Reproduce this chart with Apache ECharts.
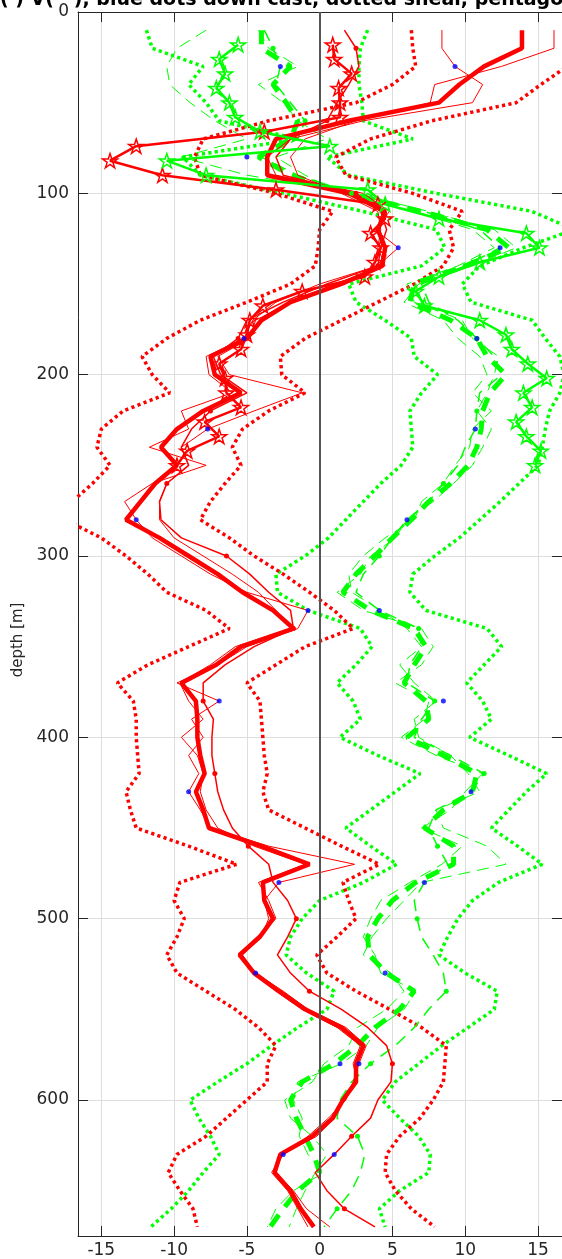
<!DOCTYPE html>
<html>
<head>
<meta charset="utf-8">
<script src="https://cdn.jsdelivr.net/npm/echarts@6/dist/echarts.min.js"></script>
<style>
html, body { margin: 0; padding: 0; background: #fff; }
#main { width: 562px; height: 1259px; }
</style>
</head>
<body>
<div id="main"></div>
<script>
// depth levels [m]
var depth = [10, 20, 30, 40, 50, 60, 70, 80, 90, 100,
    110, 120, 130, 140, 150, 160, 170, 180, 190, 200,
    210, 220, 230, 240, 250, 260, 270, 280, 290, 300,
    310, 320, 330, 340, 350, 360, 370, 380, 390, 400,
    410, 420, 430, 440, 450, 460, 470, 480, 490, 500,
    510, 520, 530, 540, 550, 560, 570, 580, 590, 600,
    610, 620, 630, 640, 650, 660, 670];

// U (red) profiles
var uMean = [13.9, 13.9, 11.3, 9.6, 8.2, 2.0, -3.0, -3.6, -3.6, 2.0,
    4.5, 4.0, 4.5, 4.3, 1.5, -2.0, -4.0, -5.0, -7.5, -7.2,
    -5.4, -8.0, -9.8, -10.9, -9.8, -11.3, -12.3, -13.3, -11.0, -9.0,
    -7.0, -5.3, -3.2, -1.8, -5.4, -7.1, -9.5, -8.5, -8.4, -8.4,
    -8.2, -7.9, -8.5, -8.0, -7.6, -4.0, -0.7, -3.9, -3.8, -3.2,
    -4.1, -5.5, -4.5, -2.8, -1.0, 1.5, 3.0, 2.5, 2.5, 1.6,
    0.9, -0.5, -2.7, -3.1, -2.0, -1.3, -0.4];
var uThin1 = [8.4, 8.4, 9.3, 11.2, 10.5, 3.0, -2.0, -3.6, -3.0, 3.0,
    4.8, 3.8, 5.4, 4.0, 0.0, -3.0, -4.6, -5.2, -7.8, -7.6,
    -6.0, -9.5, -9.0, -11.7, -7.8, -11.5, -13.4, -12.6, -11.5, -9.5,
    -7.5, -5.0, -0.8, -1.5, -5.0, -7.0, -9.8, -6.9, -8.8, -8.0,
    -9.0, -8.3, -9.0, -8.2, -7.5, -3.5, 2.4, -2.8, -3.8, -3.5,
    -4.0, -5.3, -4.4, -2.5, -0.8, 1.8, 3.2, 2.7, 2.3, 1.8,
    0.6, -0.8, -2.5, -3.3, -2.2, -1.5, -0.8];
var uThin2 = [16.1, 16.1, 12.5, 7.9, 7.6, 2.5, -1.0, -2.0, -1.5, 1.5,
    4.0, 4.2, 4.0, 4.5, 1.0, -2.0, -4.4, -4.8, -7.0, -6.2,
    -1.2, -4.5, -7.7, -9.5, -9.0, -10.5, -11.0, -11.0, -10.0, -8.0,
    -6.0, -4.2, -3.0, -2.0, -5.8, -7.5, -9.6, -9.0, -8.0, -9.5,
    -8.4, -8.0, -8.2, -7.8, -7.0, -4.5, -1.0, -4.2, -3.5, -3.0,
    -4.3, -5.6, -4.6, -3.0, -1.2, 1.2, 2.8, 2.3, 2.6, 1.5,
    1.0, -0.2, -2.6, -3.0, -1.8, -0.9, 0.7];
var uDots = [1.7, 2.5, 2.7, 2.0, 1.2, 0.5, -2.0, -3.0, -2.5, 2.5,
    4.2, 4.6, 4.2, 4.0, 0.5, -2.5, -5.0, -5.6, -7.3, -6.8,
    -5.0, -7.5, -8.8, -9.5, -9.0, -10.5, -11.0, -10.9, -9.5, -6.4,
    -4.8, -3.5, -2.0, -1.8, -4.5, -6.5, -8.0, -8.0, -7.3, -7.4,
    -7.4, -7.2, -7.0, -6.6, -6.0, -4.9, -3.5, -3.2, -2.2, -1.6,
    -2.2, -2.9, -2.0, -0.7, 1.5, 3.3, 4.6, 5.0, 4.9, 4.0,
    3.5, 2.2, 1.0, -0.3, 0.5, 1.7, 3.8];
var uShearL = [6.3, 6.4, 6.6, 5.0, 2.5, -3.5, -8.0, -8.6, -8.2, -3.0,
    0.9, 0.0, -0.1, -0.3, -2.0, -5.0, -8.2, -10.5, -12.2, -11.5,
    -10.3, -13.5, -15.0, -15.3, -14.4, -15.6, -17.0, -17.5, -15.0, -13.3,
    -11.8, -10.5, -7.8, -6.2, -9.0, -11.8, -13.9, -12.8, -12.6, -12.6,
    -12.5, -12.4, -13.3, -13.0, -12.6, -9.0, -5.7, -9.6, -10.0, -9.3,
    -9.8, -10.5, -9.8, -7.8, -5.8, -4.2, -3.0, -3.6, -3.6, -5.0,
    -6.4, -7.8, -9.8, -10.4, -9.6, -8.7, -8.4];
var uShearR = [20.5, 19.0, 17.0, 15.2, 13.5, 7.7, 3.5, 1.1, 1.8, 6.4,
    9.8, 8.9, 9.2, 8.5, 6.5, 4.0, 1.5, -1.0, -2.7, -2.6,
    -1.0, -3.5, -5.3, -6.0, -5.4, -6.5, -7.5, -8.2, -6.2, -4.5,
    -2.5, -0.7, 1.0, 2.3, -1.0, -3.0, -5.0, -4.1, -4.0, -3.9,
    -3.8, -3.6, -3.9, -3.5, -1.0, 1.5, 4.1, 1.6, 2.0, 2.5,
    1.2, -0.2, 0.5, 2.5, 4.8, 7.0, 8.7, 8.6, 8.5, 7.8,
    6.9, 5.5, 4.6, 4.5, 5.2, 6.3, 7.9];

// V (green) profiles
var vMean = [-4.0, -4.0, -2.0, -3.2, -2.3, -1.5, -2.0, -4.2, -2.0, 2.0,
    7.0, 11.5, 13.0, 10.0, 6.5, 6.2, 9.0, 10.8, 11.5, 12.8,
    11.7, 11.2, 11.1, 10.8, 10.2, 9.0, 7.5, 6.3, 5.0, 3.8,
    2.5, 1.6, 3.5, 6.5, 7.3, 6.5, 5.8, 7.3, 7.5, 6.0,
    8.5, 10.8, 10.5, 8.5, 7.2, 9.2, 9.2, 6.6, 5.0, 4.0,
    3.3, 3.4, 4.6, 6.5, 5.5, 3.8, 2.6, 1.0, -1.2, -2.0,
    -1.6, -1.0, -0.4, 0.0, -1.5, -2.5, -3.4];
var vThin1 = [-7.8, -9.8, -10.5, -10.3, -8.9, -7.2, -5.0, -9.5, -5.0, 2.5,
    7.5, 12.0, 13.5, 10.5, 6.8, 5.8, 8.5, 9.5, 11.0, 11.5,
    10.5, 11.8, 10.5, 10.3, 9.3, 8.5, 7.0, 6.5, 4.5, 3.0,
    2.0, 2.2, 4.2, 6.0, 7.0, 5.5, 6.5, 8.0, 6.5, 6.8,
    9.0, 10.2, 11.0, 8.0, 8.5, 11.5, 12.8, 7.0, 5.8, 4.6,
    3.6, 3.0, 4.9, 5.8, 4.6, 2.6, 2.0, 0.3, -0.5, -2.4,
    -2.0, -0.5, 0.5, -0.3, -1.0, -1.6, -2.1];
var vThin2 = [-4.2, -3.5, -1.5, -4.2, -2.5, -1.5, 0.5, -3.0, -1.0, 1.5,
    6.5, 10.5, 12.0, 9.5, 6.0, 6.5, 9.8, 10.5, 12.3, 12.0,
    11.5, 10.8, 11.8, 11.2, 10.5, 9.2, 7.8, 6.0, 5.2, 3.5,
    2.8, 1.2, 3.0, 7.0, 7.8, 7.0, 5.2, 7.5, 7.2, 5.6,
    8.0, 11.2, 10.0, 9.0, 7.0, 9.8, 8.4, 6.2, 4.2, 3.5,
    3.0, 3.8, 4.2, 6.6, 5.8, 4.0, 3.2, 1.5, -1.5, -1.8,
    -1.2, -1.4, -0.8, 0.3, -1.8, -3.0, -3.6];
var vDots = [-3.8, -3.2, -2.7, -3.0, -2.0, -1.0, -1.5, -4.0, -1.5, 2.2,
    7.2, 11.0, 12.4, 10.0, 7.0, 7.5, 9.5, 10.8, 12.0, 12.5,
    11.0, 10.8, 10.7, 10.0, 9.5, 8.5, 7.5, 6.0, 5.0, 4.1,
    3.0, 2.5, 4.1, 6.8, 7.0, 6.2, 6.0, 7.9, 7.0, 6.5,
    9.0, 11.3, 10.4, 8.0, 7.5, 8.1, 8.8, 7.2, 6.5, 6.7,
    7.0, 7.8, 8.5, 8.7, 7.5, 6.5, 5.2, 3.5, 2.2, 1.4,
    1.2, 2.6, 3.1, 2.8, 2.2, 1.2, 0.3];
var vShearL = [-11.9, -11.5, -8.0, -9.0, -7.8, -6.9, -1.5, -9.4, -8.2, -2.5,
    3.0, 8.0, 8.6, 7.0, 2.0, 2.5, 4.5, 6.3, 6.5, 8.1,
    7.0, 6.2, 6.3, 6.4, 5.6, 4.2, 3.0, 1.8, 0.6, -1.0,
    -3.0, -2.9, -0.8, 2.8, 3.6, 2.5, 1.2, 2.3, 2.8, 1.4,
    4.0, 6.9, 5.2, 3.5, 1.8, 3.5, 5.3, 3.0, 0.0, -1.2,
    -2.0, -2.3, -0.9, 1.0, 0.5, -1.5, -3.3, -5.0, -7.0, -8.9,
    -8.3, -7.5, -6.9, -8.0, -9.0, -10.2, -11.6];
var vShearR = [3.3, 2.8, 2.7, 2.7, 2.9, 3.0, 6.4, 0.5, 2.0, 8.0,
    14.6, 17.5, 14.0, 11.0, 9.8, 10.4, 14.6, 15.5, 16.5, 16.8,
    16.5, 15.8, 15.5, 15.3, 15.0, 13.7, 12.4, 11.0, 9.6, 7.9,
    6.4, 6.2, 7.3, 11.5, 12.5, 11.3, 10.1, 11.2, 11.8, 10.3,
    13.0, 15.6, 14.2, 13.0, 11.8, 13.6, 15.3, 12.3, 10.5, 9.5,
    8.8, 8.2, 10.0, 12.2, 12.0, 10.2, 8.4, 6.8, 5.2, 4.3,
    5.5, 6.8, 7.6, 7.5, 5.5, 4.1, 4.5];

// pentagram profiles (upper 250 m)
var starDepth = [18, 26, 34, 42, 50, 58, 66, 74, 82, 90,
    98, 106, 114, 122, 130, 138, 146, 154, 162, 170,
    178, 186, 194, 202, 210, 218, 226, 234, 242, 250];
var uStar = [0.9, 1.0, 2.2, 1.3, 1.4, 1.4, -3.8, -12.6, -14.4, -10.8,
    -3.0, 4.0, 4.5, 3.5, 4.2, 3.8, 3.1, -1.2, -3.9, -4.8,
    -5.0, -5.4, -6.9, -6.5, -6.4, -5.4, -7.9, -6.9, -9.1, -9.8];
var vStar = [-5.6, -6.9, -6.5, -7.1, -6.2, -5.8, -4.1, 0.7, -10.5, -7.8,
    3.3, 4.5, 8.2, 14.2, 15.1, 11.0, 8.2, 6.6, 7.2, 11.0,
    12.8, 13.2, 14.3, 15.6, 14.0, 14.6, 13.5, 14.2, 15.2, 14.8];

// down cast (blue dots)
var castDepth = [30, 80, 130, 180, 230, 280, 330, 380, 430, 480, 530, 580, 630];
var castU = [9.3, -5.0, 5.4, -5.2, -7.7, -12.6, -0.8, -6.9, -9.0, -2.8, -4.4, 2.7, -2.5];
var castV = [-2.7, null, 12.4, 10.8, 10.7, 6.0, 4.1, 8.5, 10.4, 7.2, 4.5, 1.4, 1.0];

var RED = '#ff0000';
var GREEN = '#00ff00';
var STAR = 'path://M50,0L61.2,34.5L97.6,34.5L68.2,55.9L79.4,90.5L50,69.1L20.6,90.5L31.8,55.9L2.4,34.5L38.8,34.5Z';
var FONT = 'DejaVu Sans';

function pairs(vals, deps) {
    return vals.map(function (v, i) { return [v, deps[i]]; });
}

function plain(vals, color, width, dash, extra) {
    var s = {
        type: 'line',
        data: pairs(vals, depth),
        symbol: 'none',
        lineStyle: { color: color, width: width, type: dash || 'solid', cap: 'butt' },
        itemStyle: { color: color },
        z: 2
    };
    for (var k in extra) s[k] = extra[k];
    return s;
}

function dotted(vals, color) {
    return plain(vals, color, 3.5, [3.2, 3.3]);
}

function withDots(vals, color, dash) {
    return plain(vals, color, 1.5, dash, {
        symbol: 'circle',
        showSymbol: true,
        symbolSize: function (v, p) { return p.dataIndex % 4 === 1 ? 5 : 0; }
    });
}

function starLine(vals, color) {
    return {
        type: 'line',
        data: pairs(vals, starDepth),
        symbol: STAR,
        symbolSize: 15,
        symbolKeepAspect: true,
        showSymbol: true,
        lineStyle: { color: color, width: 2.5 },
        itemStyle: { color: 'rgba(255,255,255,0)', borderColor: color, borderWidth: 1.5 },
        z: 3
    };
}

function cast(vals) {
    return {
        type: 'scatter',
        data: pairs(vals, castDepth).filter(function (p) { return p[0] !== null; }),
        symbol: 'circle',
        symbolSize: 5,
        itemStyle: { color: '#0000ff' },
        z: 5
    };
}

var chart = echarts.init(document.getElementById('main'));

var tickStyle = { show: true, inside: true, length: 10, lineStyle: { color: '#262626' } };
var lineAxis = { show: true, onZero: false, lineStyle: { color: '#262626', width: 1 } };

var option = {
    animation: false,
    backgroundColor: '#fff',
    grid: { left: 78, right: 0, top: 12, bottom: 23 },
    xAxis: [{
        type: 'value', min: -16.6, max: 16.65, splitNumber: 7,
        axisLine: lineAxis, axisTick: tickStyle,
        axisLabel: { showMinLabel: false, showMaxLabel: false, color: '#262626', fontSize: 17, fontFamily: FONT, margin: 6 },
        splitLine: { show: true, lineStyle: { color: '#dedede', width: 1 } }
    }, {
        type: 'value', position: 'top', min: -16.6, max: 16.65, splitNumber: 7,
        axisLine: lineAxis, axisTick: tickStyle,
        axisLabel: { show: false }, splitLine: { show: false }
    }],
    yAxis: [{
        type: 'value', inverse: true, min: 0, max: 675,
        axisLine: lineAxis, axisTick: tickStyle,
        axisLabel: { showMaxLabel: false, color: '#262626', fontSize: 17, fontFamily: FONT, margin: 9 },
        splitLine: { show: true, lineStyle: { color: '#dedede', width: 1 } }
    }, {
        type: 'value', position: 'right', inverse: true, min: 0, max: 675,
        axisLine: lineAxis, axisTick: tickStyle,
        axisLabel: { show: false }, splitLine: { show: false }
    }],
    graphic: [{
        type: 'text', left: 0, top: -9,
        style: { text: '( ) V(   ), blue dots down cast, dotted shear, pentagons', font: 'bold 19px "DejaVu Sans"', fill: '#000' }
    }, {
        type: 'text', x: 18, y: 640, rotation: Math.PI / 2,
        style: { text: 'depth [m]', font: '15px "DejaVu Sans"', fill: '#262626', align: 'center', verticalAlign: 'middle', textAlign: 'center', textVerticalAlign: 'middle' }
    }],
    series: [
        dotted(vShearL, GREEN),
        dotted(vShearR, GREEN),
        dotted(uShearL, RED),
        dotted(uShearR, RED),
        plain(vThin1, GREEN, 1, [12, 7]),
        plain(vThin2, GREEN, 1, [12, 7]),
        withDots(vDots, GREEN, [12, 8]),
        plain(vMean, GREEN, 5, [14, 10]),
        plain(uThin1, RED, 1, 'solid'),
        plain(uThin2, RED, 1, 'solid'),
        withDots(uDots, RED, 'solid'),
        plain(uMean, RED, 4.5, 'solid', {
            markLine: {
                silent: true, symbol: 'none', label: { show: false },
                lineStyle: { color: '#555', width: 2, type: 'solid' },
                data: [{ xAxis: 0 }]
            }
        }),
        starLine(uStar, RED),
        starLine(vStar, GREEN),
        cast(castU),
        cast(castV)
    ]
};

chart.setOption(option);
</script>
</body>
</html>
